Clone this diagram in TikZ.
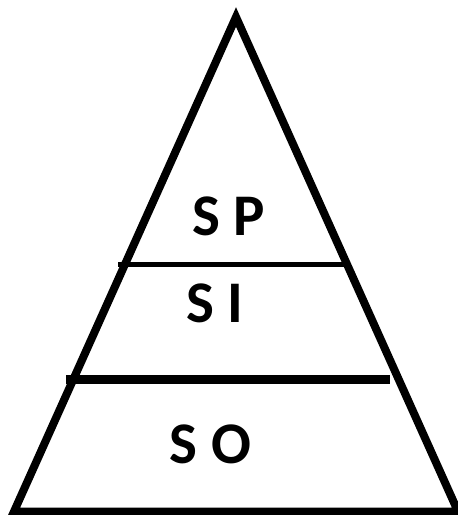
\documentclass[tikz,border=0pt]{standalone}
\usepackage{fontspec}
\setmainfont{Carlito}
\begin{document}
\begin{tikzpicture}[x=1pt,y=-1pt,line join=miter]
\tikzset{layer/.style={font=\fontsize{59}{59}\selectfont\bfseries,inner sep=0pt}}
\useasboundingbox (0,0) rectangle (458,515);
\coordinate (top) at (236,17);
\coordinate (bl) at (14,511.5);
\coordinate (br) at (458,511.5);
\draw[line width=8pt] (top) -- (br) -- (bl) -- cycle;
\coordinate (a1) at (118,264.5);
\coordinate (a2) at (348,264.5);
\coordinate (b1) at (66,379.5);
\coordinate (b2) at (390,379.5);
\draw[line width=5pt] (a1) -- (a2);
\draw[line width=8.5pt] (b1) -- (b2);
\node[layer] (sp) at (228.5,216) {S P};
\node[layer] (si) at (214.5,303) {S I};
\node[layer] (so) at (210.5,444) {S O};
\end{tikzpicture}
\end{document}
